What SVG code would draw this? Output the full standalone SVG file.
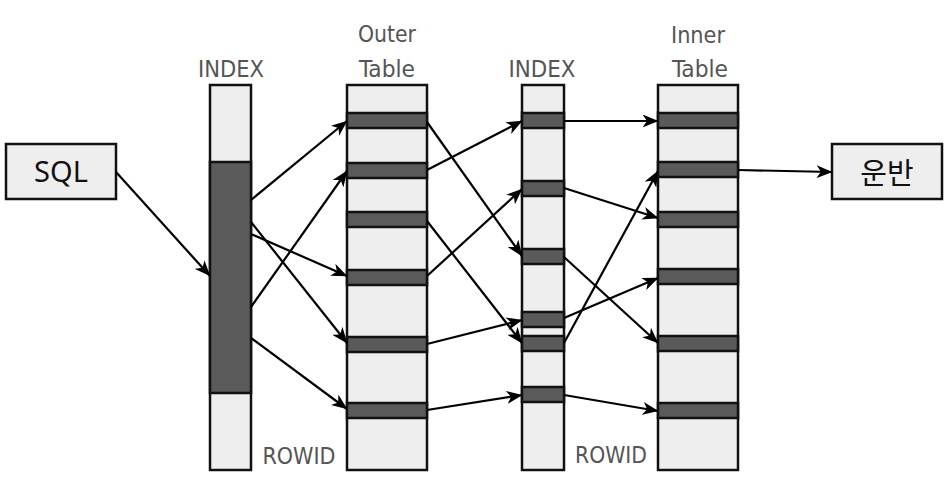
<svg xmlns="http://www.w3.org/2000/svg" width="948" height="481" viewBox="0 0 948 481">
<style>
.box{fill:#eeeeee;stroke:#111;stroke-width:2.5}
.bar{fill:#5a5a5a;stroke:#111;stroke-width:2.5}
.lbl{font-family:"DejaVu Sans Condensed","DejaVu Sans",sans-serif;font-size:23px;fill:#555;text-anchor:middle}
.big{font-family:"Noto Sans","Noto Sans CJK KR",sans-serif;font-size:29px;fill:#111;text-anchor:middle}
.con line{stroke:#000;stroke-width:2.2;marker-end:url(#ah)}
</style>
<defs>
<marker id="ah" viewBox="0 0 16 13" refX="15.5" refY="6.5" markerWidth="16" markerHeight="13" markerUnits="userSpaceOnUse" orient="auto">
<path d="M0,0 L16,6.5 L0,13 L4.5,6.5 Z" fill="#000"/>
</marker>
</defs>
<rect width="948" height="481" fill="#fff"/>

<g id="sql">
<rect class="box" x="6" y="144" width="110" height="55"/>
<text class="big" x="61" y="182">SQL</text>
</g>

<g id="index1">
<rect class="box" x="210" y="85" width="41" height="385"/>
<rect class="bar" x="210" y="162" width="41" height="231"/>
<text class="lbl" x="231" y="77" textLength="66" lengthAdjust="spacingAndGlyphs">INDEX</text>
</g>

<g id="outer-table">
<rect class="box" x="347" y="85" width="80" height="385"/>
<rect class="bar" x="347" y="113" width="80" height="15"/>
<rect class="bar" x="347" y="163" width="80" height="15"/>
<rect class="bar" x="347" y="212" width="80" height="15"/>
<rect class="bar" x="347" y="270" width="80" height="15"/>
<rect class="bar" x="347" y="337" width="80" height="15"/>
<rect class="bar" x="347" y="403" width="80" height="15"/>
<text class="lbl" x="387" y="42" textLength="58" lengthAdjust="spacingAndGlyphs">Outer</text>
<text class="lbl" x="387" y="77" textLength="56" lengthAdjust="spacingAndGlyphs">Table</text>
</g>

<g id="index2">
<rect class="box" x="522" y="85" width="42" height="385"/>
<rect class="bar" x="522" y="113" width="42" height="15"/>
<rect class="bar" x="522" y="181" width="42" height="15"/>
<rect class="bar" x="522" y="249" width="42" height="15"/>
<rect class="bar" x="522" y="312" width="42" height="15"/>
<rect class="bar" x="522" y="336" width="42" height="15"/>
<rect class="bar" x="522" y="387" width="42" height="15"/>
<text class="lbl" x="542" y="77" textLength="67" lengthAdjust="spacingAndGlyphs">INDEX</text>
</g>

<g id="inner-table">
<rect class="box" x="658" y="85" width="80" height="385"/>
<rect class="bar" x="658" y="113" width="80" height="15"/>
<rect class="bar" x="658" y="162" width="80" height="15"/>
<rect class="bar" x="658" y="212" width="80" height="15"/>
<rect class="bar" x="658" y="269" width="80" height="15"/>
<rect class="bar" x="658" y="336" width="80" height="15"/>
<rect class="bar" x="658" y="403" width="80" height="15"/>
<text class="lbl" x="698" y="43" textLength="54" lengthAdjust="spacingAndGlyphs">Inner</text>
<text class="lbl" x="700" y="77" textLength="56" lengthAdjust="spacingAndGlyphs">Table</text>
</g>

<g id="result">
<rect class="box" x="832" y="144" width="110" height="55"/>
<text class="big" x="887" y="184">운반</text>
</g>

<g id="rowid-labels">
<text class="lbl" x="299" y="464" textLength="73" lengthAdjust="spacingAndGlyphs">ROWID</text>
<text class="lbl" x="611" y="463" textLength="72" lengthAdjust="spacingAndGlyphs">ROWID</text>
</g>

<g id="connectors" class="con">
<line x1="116" y1="172" x2="210" y2="276"/>
<line x1="251" y1="200" x2="347" y2="121"/>
<line x1="251" y1="222" x2="347" y2="343"/>
<line x1="251" y1="234" x2="347" y2="276"/>
<line x1="251" y1="307" x2="347" y2="171"/>
<line x1="251" y1="338" x2="347" y2="409"/>
<line x1="427" y1="122" x2="522" y2="256"/>
<line x1="427" y1="170" x2="522" y2="121"/>
<line x1="427" y1="221" x2="522" y2="343"/>
<line x1="427" y1="276" x2="522" y2="189"/>
<line x1="427" y1="344" x2="522" y2="320"/>
<line x1="427" y1="410" x2="522" y2="395"/>
<line x1="564" y1="121" x2="658" y2="121"/>
<line x1="564" y1="188" x2="658" y2="218"/>
<line x1="564" y1="257" x2="658" y2="343"/>
<line x1="564" y1="318" x2="658" y2="278"/>
<line x1="564" y1="343" x2="658" y2="171"/>
<line x1="564" y1="395" x2="658" y2="411"/>
<line x1="738" y1="170" x2="832" y2="172"/>
</g>
</svg>
